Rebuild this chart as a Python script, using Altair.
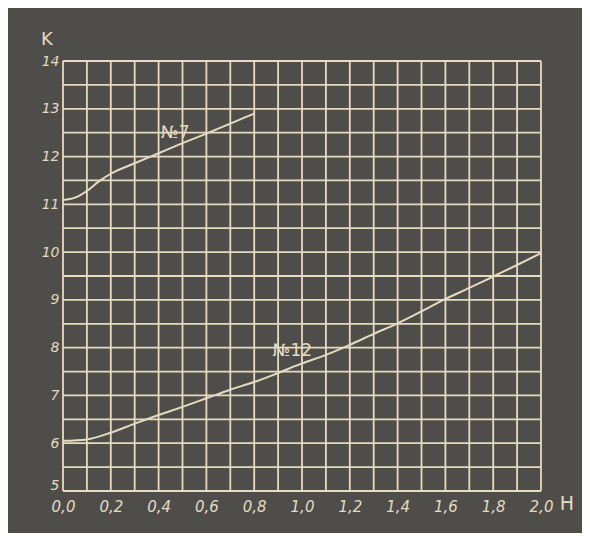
import altair as alt
import pandas as pd

# Curve No 7
h7 = [0.0, 0.05, 0.1, 0.15, 0.2, 0.3, 0.4, 0.5, 0.6, 0.7, 0.8]
k7 = [11.09, 11.14, 11.28, 11.48, 11.64, 11.86, 12.07, 12.28, 12.48, 12.69, 12.9]

# Curve No 12
h12 = [0.0, 0.1, 0.2, 0.3, 0.4, 0.5, 0.6, 0.7, 0.8, 0.9, 1.0,
       1.1, 1.2, 1.3, 1.4, 1.5, 1.6, 1.7, 1.8, 1.9, 2.0]
k12 = [6.05, 6.08, 6.22, 6.41, 6.59, 6.76, 6.94, 7.12, 7.28, 7.47, 7.67,
       7.85, 8.06, 8.29, 8.51, 8.76, 9.02, 9.25, 9.49, 9.73, 9.98]

x_ticks = [round(i * 0.1, 1) for i in range(21)]
y_ticks = [5 + 0.5 * i for i in range(19)]

curve_names = ["№7", "№12"]
curve_label_h = [0.47, 0.96]
curve_label_k = [12.5, 7.92]

BG = "#4f4d49"
FG = "#e4dbc1"

df = pd.concat([
    pd.DataFrame({"H": h7, "K": k7, "curve": "7"}),
    pd.DataFrame({"H": h12, "K": k12, "curve": "12"}),
])
lab = pd.DataFrame({"H": curve_label_h, "K": curve_label_k, "t": curve_names})

xsc = alt.Scale(domain=[0, 2.0], nice=False, zero=False)
ysc = alt.Scale(domain=[5, 14], nice=False, zero=False)

xaxis = alt.Axis(
    values=x_ticks, title=None, domain=False, ticks=False, grid=False,
    labelExpr="round(datum.value*10) % 2 == 0 ? replace(format(datum.value, '.1f'), '.', ',') : ''",
    labelColor=FG, labelFont="DejaVu Sans", labelFontStyle="italic",
    labelFontSize=15, labelPadding=8, labelOverlap=False, labelFlush=False,
)
yaxis = alt.Axis(
    values=y_ticks, title=None, domain=False, ticks=False, grid=False,
    labelExpr="datum.value % 1 == 0 ? format(datum.value, 'd') : ''",
    labelColor=FG, labelFont="DejaVu Sans", labelFontStyle="italic",
    labelFontSize=14, labelPadding=4, labelOverlap=False, labelFlush=False,
    labelOffset={"condition": {"test": "datum.value == 5", "value": -6}, "value": 0},
)

vgrid = alt.Chart(pd.DataFrame({"H": x_ticks})).mark_rule(
    color=FG, strokeWidth=1.8
).encode(x=alt.X("H:Q", scale=xsc, axis=xaxis))

hgrid = alt.Chart(pd.DataFrame({"K": y_ticks})).mark_rule(
    color=FG, strokeWidth=1.8
).encode(y=alt.Y("K:Q", scale=ysc, axis=yaxis))

lines = alt.Chart(df).mark_line(
    color=FG, strokeWidth=2, interpolate="monotone"
).encode(
    x=alt.X("H:Q", scale=xsc),
    y=alt.Y("K:Q", scale=ysc),
    detail="curve:N",
)

labels = alt.Chart(lab).mark_text(
    color=FG, font="DejaVu Sans", fontSize=17
).encode(
    x=alt.X("H:Q", scale=xsc),
    y=alt.Y("K:Q", scale=ysc),
    text="t:N",
)

kdf = pd.DataFrame({"t": ["K"]})
hdf = pd.DataFrame({"t": ["H"]})
k_text = alt.Chart(kdf).mark_text(
    color=FG, font="DejaVu Sans", fontSize=18
).encode(x=alt.value(-16), y=alt.value(-21), text="t:N")
h_text = alt.Chart(hdf).mark_text(
    color=FG, font="DejaVu Sans", fontSize=19
).encode(x=alt.value(504), y=alt.value(443), text="t:N")

chart = alt.layer(vgrid, hgrid, lines, labels, k_text, h_text).properties(
    width=478, height=430,
    background=BG,
    padding={"left": 55, "top": 53, "right": 41, "bottom": 42},
    autosize=alt.AutoSizeParams(type="none"),
).configure_view(strokeWidth=0)

chart.save("out.html", embed_options={"renderer": "svg", "actions": False})
